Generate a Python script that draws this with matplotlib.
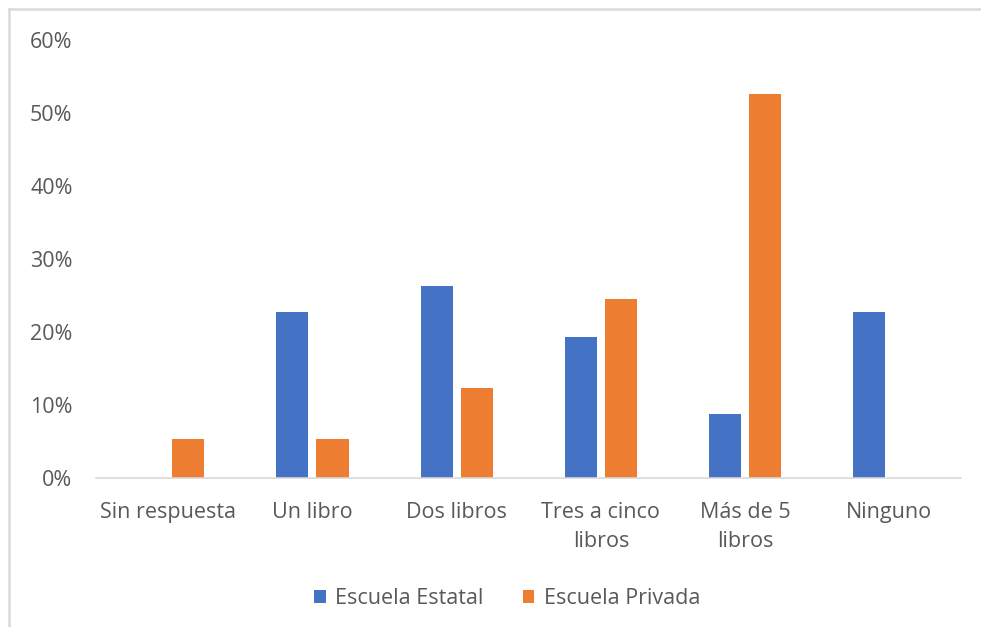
import numpy as np
import matplotlib
matplotlib.use("Agg")
import matplotlib.pyplot as plt
from matplotlib.lines import Line2D
from matplotlib.ticker import PercentFormatter

# --- datos ---
categorias = ["Sin respuesta", "Un libro", "Dos libros", "Tres a cinco\nlibros",
              "Más de 5\nlibros", "Ninguno"]
estatal = [0.0, 22.8, 26.3, 19.3, 8.8, 22.8]
privada = [5.3, 5.3, 12.3, 24.6, 52.6, 0.0]
series = ["Escuela Estatal", "Escuela Privada"]
colores = ["#4472C4", "#ED7D31"]

plt.rcParams["font.family"] = ["Open Sans", "DejaVu Sans"]
TEXTO = "#595959"
FS = 15.5

fig = plt.figure(figsize=(9.81, 6.27), dpi=100)
ax = fig.add_axes([0.098, 0.2376, 0.882, 0.698])

# borde gris izquierdo y superior del área del gráfico
x0, y0 = 8.5 / 981, 1 - 8.5 / 627
fig.add_artist(Line2D([x0, x0], [0, y0], transform=fig.transFigure,
                      color="#d9d9d9", linewidth=1.8))
fig.add_artist(Line2D([x0, 1], [y0, y0], transform=fig.transFigure,
                      color="#d9d9d9", linewidth=1.8))

x = np.arange(len(categorias))
ancho = 0.222
desp = 0.139
ax.bar(x - desp, estatal, ancho, color=colores[0], label=series[0])
ax.bar(x + desp, privada, ancho, color=colores[1], label=series[1])

ax.set_xlim(-0.5, len(categorias) - 0.5)
ax.set_ylim(0, 60)
ax.set_yticks(np.arange(0, 61, 10))
ax.yaxis.set_major_formatter(PercentFormatter(decimals=0))
ax.set_xticks(x)
ax.set_xticklabels(categorias, linespacing=1.55)

for s in ["top", "right", "left"]:
    ax.spines[s].set_visible(False)
ax.spines["bottom"].set_color("#d9d9d9")
ax.spines["bottom"].set_linewidth(1.2)
ax.tick_params(axis="both", length=0, colors=TEXTO, labelsize=FS)
ax.tick_params(axis="y", pad=17)
ax.tick_params(axis="x", pad=17)

leg = fig.legend(loc="center", bbox_to_anchor=(0.517, 1 - 599 / 627), ncol=2,
                 frameon=False, fontsize=FS, handlelength=0.55, handleheight=0.55,
                 handletextpad=0.45, columnspacing=1.8)
for t in leg.get_texts():
    t.set_color(TEXTO)

fig.savefig("out.png", dpi=100)
